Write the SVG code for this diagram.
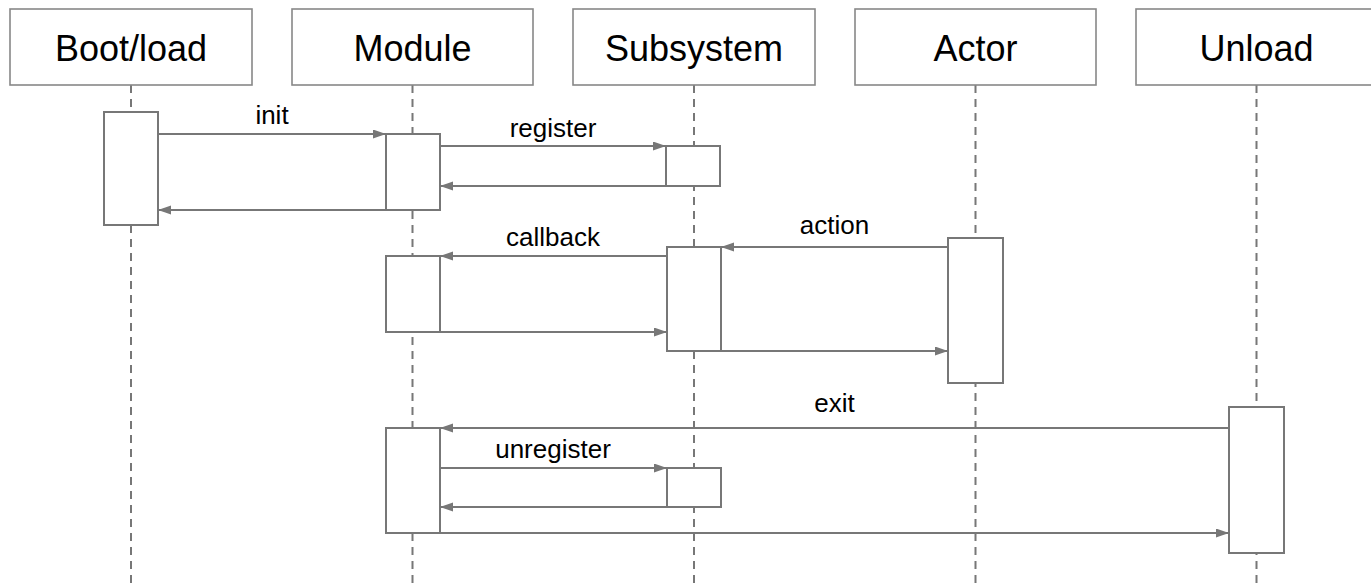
<svg xmlns="http://www.w3.org/2000/svg" width="1371" height="584" viewBox="0 0 1371 584">
  <defs>
    <marker id="arrow" markerUnits="userSpaceOnUse" markerWidth="14" markerHeight="10" refX="13" refY="4.5" orient="auto">
      <path d="M0,0 L13,4.5 L0,9 z" fill="#777"/>
    </marker>
  </defs>
  <style>
    .head { fill: #fff; stroke: #888; stroke-width: 1.6; }
    .head-text { font-family: "Liberation Sans", Arial, sans-serif; font-size: 36px; fill: #000; text-anchor: middle; }
    .life { stroke: #777; stroke-width: 2; stroke-dasharray: 8 6; fill: none; }
    .act { fill: #fff; stroke: #777; stroke-width: 2; }
    .msg { stroke: #777; stroke-width: 2; fill: none; marker-end: url(#arrow); }
    .label { font-family: "Liberation Sans", Arial, sans-serif; font-size: 26px; fill: #000; text-anchor: middle; }
  </style>

  <rect width="1371" height="584" fill="#fff"/>

  <!-- lifelines -->
  <g id="lifelines">
    <line class="life" x1="131" y1="85" x2="131" y2="584"/>
    <line class="life" x1="412.5" y1="85" x2="412.5" y2="584"/>
    <line class="life" x1="694" y1="85" x2="694" y2="584"/>
    <line class="life" x1="975.5" y1="85" x2="975.5" y2="584"/>
    <line class="life" x1="1256.5" y1="85" x2="1256.5" y2="584"/>
  </g>

  <!-- participants -->
  <g id="boot-load">
    <rect class="head" x="10" y="9" width="242" height="76"/>
    <text class="head-text" x="131" y="61">Boot/load</text>
    <rect class="act" x="104" y="112" width="54" height="113"/>
  </g>
  <g id="module">
    <rect class="head" x="292" y="9" width="241" height="76"/>
    <text class="head-text" x="412.5" y="61">Module</text>
    <rect class="act" x="386" y="134" width="54" height="76"/>
    <rect class="act" x="386" y="256" width="54" height="76"/>
    <rect class="act" x="386" y="428" width="54" height="105"/>
  </g>
  <g id="subsystem">
    <rect class="head" x="573" y="9" width="242" height="76"/>
    <text class="head-text" x="694" y="61">Subsystem</text>
    <rect class="act" x="666" y="146" width="54" height="40"/>
    <rect class="act" x="667" y="247" width="54" height="104"/>
    <rect class="act" x="667" y="468" width="54" height="39"/>
  </g>
  <g id="actor">
    <rect class="head" x="855" y="9" width="241" height="76"/>
    <text class="head-text" x="975.5" y="61">Actor</text>
    <rect class="act" x="948" y="238" width="55" height="145"/>
  </g>
  <g id="unload">
    <rect class="head" x="1136" y="9" width="242" height="76"/>
    <text class="head-text" x="1256.5" y="61">Unload</text>
    <rect class="act" x="1229" y="407" width="55" height="146"/>
  </g>

  <!-- messages -->
  <g id="connectors">
    <line class="msg" x1="158" y1="134" x2="386" y2="134"/>
    <line class="msg" x1="386" y1="210" x2="158" y2="210"/>
    <line class="msg" x1="440" y1="146" x2="666" y2="146"/>
    <line class="msg" x1="666" y1="186" x2="440" y2="186"/>
    <line class="msg" x1="948" y1="247" x2="721" y2="247"/>
    <line class="msg" x1="667" y1="256" x2="440" y2="256"/>
    <line class="msg" x1="440" y1="332" x2="667" y2="332"/>
    <line class="msg" x1="721" y1="351" x2="948" y2="351"/>
    <line class="msg" x1="1229" y1="428" x2="440" y2="428"/>
    <line class="msg" x1="440" y1="468" x2="667" y2="468"/>
    <line class="msg" x1="667" y1="507" x2="440" y2="507"/>
    <line class="msg" x1="440" y1="533" x2="1229" y2="533"/>
  </g>

  <!-- message labels -->
  <g id="labels">
    <text class="label" x="272" y="124">init</text>
    <text class="label" x="553" y="137">register</text>
    <text class="label" x="553" y="246">callback</text>
    <text class="label" x="834.5" y="234">action</text>
    <text class="label" x="834.5" y="412">exit</text>
    <text class="label" x="553" y="458">unregister</text>
  </g>
</svg>
